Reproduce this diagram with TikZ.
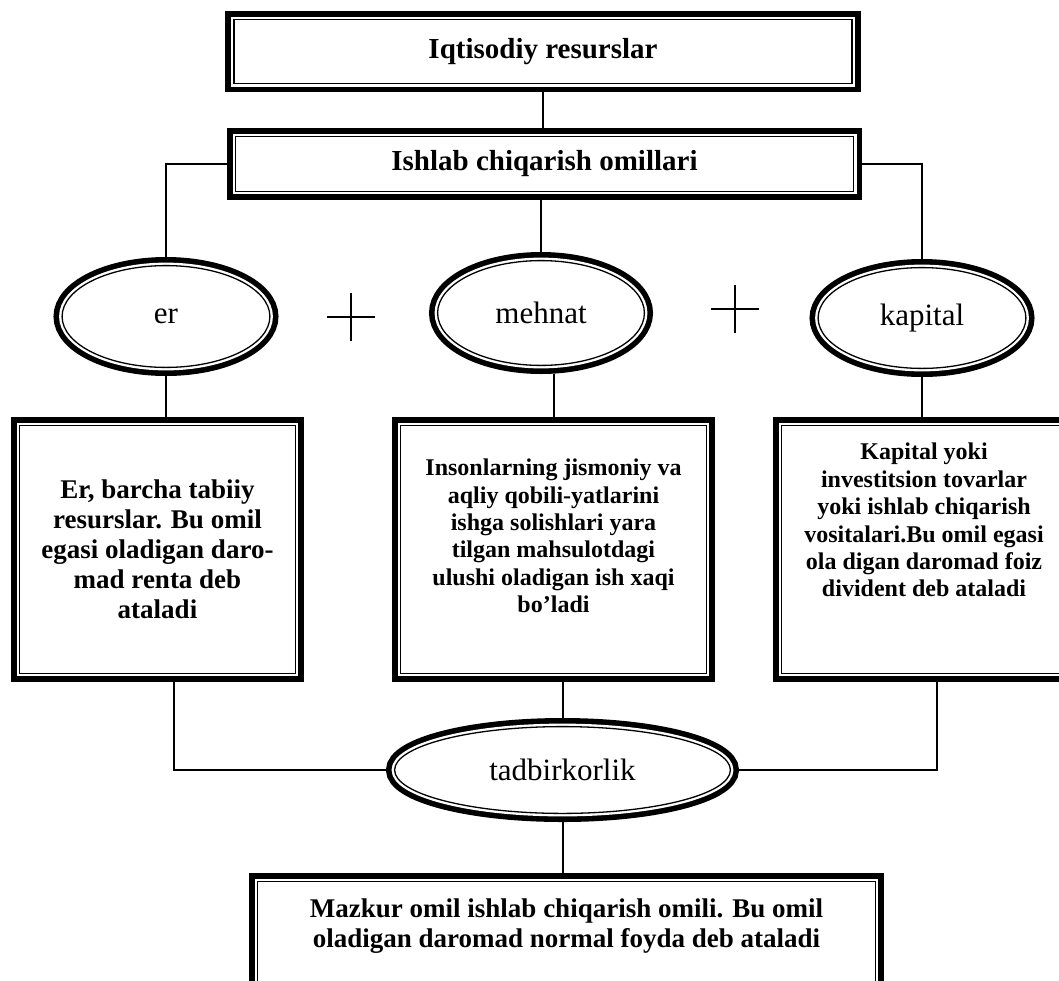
\documentclass[tikz,border=0pt]{standalone}
\usepackage{fontspec}
\setmainfont{Liberation Serif}
\usetikzlibrary{shapes.geometric}
\newcommand\thk{8.6pt}
\newcommand\gapw{3pt}
\newcommand\thn{0.65pt}
\newcommand\fsep{4.3pt}
\newcommand\pl{24}

\tikzset{
  frame/.style={draw, line width=\thn, fill=white, inner sep=0pt, outer sep=\fsep,
    preaction={draw, line width=\thk},
    preaction={draw=white, line width=\gapw}},
  headbox/.style={frame, font=\fontsize{14.5}{17}\selectfont\bfseries},
  oval/.style={frame, ellipse, font=\fontsize{15.5}{18}\selectfont},
  textbox/.style={frame, align=center, minimum height=123.9pt},
  link/.style={line width=1pt},
  cross/.style={line width=0.75pt}
}

\begin{document}
\begin{tikzpicture}[x=0.5pt,y=-0.5pt]
    \useasboundingbox (0,0) rectangle (1059,980);
    \clip (0,0) rectangle (1059,980);

    \node[headbox,minimum width=309pt,minimum height=32pt] (top) at (543,51.5) {Iqtisodiy resurslar};
    \node[headbox,minimum width=309pt,minimum height=27.4pt] (fac) at (544.5,164) {Ishlab chiqarish omillari};

    \node[oval,minimum width=103.9pt,minimum height=50.9pt] (er) at (166,316.5) {er};
    \node[oval,minimum width=103.4pt,minimum height=52.4pt] (meh) at (541,313) {mehnat};
    \node[oval,minimum width=103.9pt,minimum height=50.4pt] (kap) at (922,318) {kapital};

    \foreach \cx/\cy in {351/317,735/309}
      \draw[cross] (\cx-\pl,\cy) -- (\cx+\pl,\cy) (\cx,\cy-\pl) -- (\cx,\cy+\pl);

    \node[textbox,minimum width=137.9pt,font=\fontsize{13.5}{15}\selectfont\bfseries] (erbox) at (157.5,549.5)
      {Er, barcha tabiiy\\ resurslar. Bu omil\\ egasi oladigan daro-\\ mad renta deb\\ ataladi};
    \node[textbox,minimum width=152.9pt,font=\fontsize{12}{13.7}\selectfont\bfseries] (mehbox) at (553.5,549.5)
      {Insonlarning jismoniy va\\ aqliy qobili-yatlarini\\ ishga solishlari yara\\ tilgan mahsulotdagi\\ ulushi oladigan ish xaqi\\ bo’ladi\\ \mbox{}};
    \node[textbox,minimum width=142.4pt,font=\fontsize{12}{13.7}\selectfont\bfseries] (kapbox) at (924,549.5)
      {Kapital yoki\\ investitsion tovarlar\\ yoki ishlab chiqarish\\ vositalari.Bu omil egasi\\ ola digan daromad foiz\\ divident deb ataladi\\[15.8pt] \mbox{}};

    \node[oval,minimum width=167.9pt,minimum height=43.4pt] (tad) at (562.5,770) {tadbirkorlik};

    \node[frame,align=center,minimum width=308.9pt,minimum height=56.4pt,font=\fontsize{13.5}{15}\selectfont\bfseries] (res) at (566.5,938)
      {Mazkur omil ishlab chiqarish omili. Bu omil\\ oladigan daromad normal foyda deb ataladi\\ \mbox{}};

    \draw[link] (top.south) -- (top.south |- fac.north);
    \draw[link] (fac.west) -| (er.north);
    \draw[link] (fac.east) -| (kap.north);
    \draw[link] (fac.south -| meh.north) -- (meh.north);

    \draw[link] (er.south) -- (er.south |- erbox.north);
    \draw[link] (mehbox.north) -- (mehbox.north |- meh.south);
    \draw[link] (kap.south) -- (kap.south |- kapbox.north);

    \draw[link] ([xshift=8.25pt]erbox.south) |- (tad.west);
    \draw[link] (tad.north) -- (tad.north |- mehbox.south);
    \draw[link] ([xshift=6.5pt]kapbox.south) |- (tad.east);
    \draw[link] (tad.south) -- (tad.south |- res.north);
\end{tikzpicture}
\end{document}
